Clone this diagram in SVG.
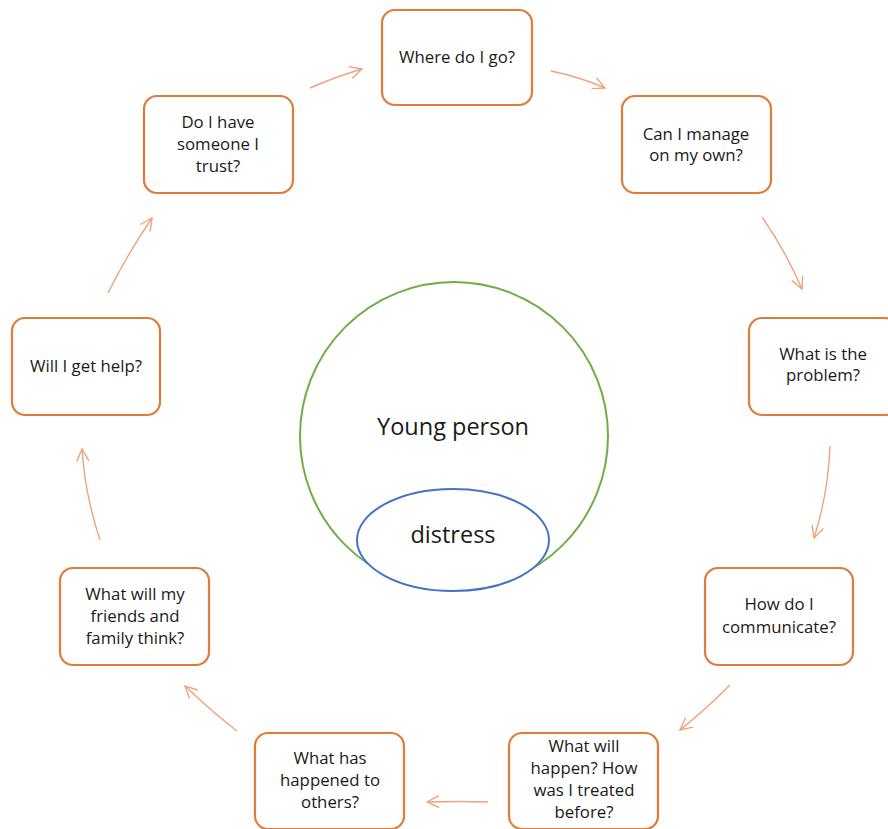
<svg xmlns="http://www.w3.org/2000/svg" width="888" height="829" viewBox="0 0 888 829">
  <style>
    .box { fill: #ffffff; stroke: #e07b3a; stroke-width: 2.2; }
    .lbl { font-family: "Open Sans", "Liberation Sans", sans-serif; font-size: 16.8px; fill: #1a1a1a; text-anchor: middle; }
    .big { font-family: "Open Sans", "Liberation Sans", sans-serif; font-size: 23.5px; fill: #1a1a1a; text-anchor: middle; }
    .flow { fill: none; stroke: #eea47a; stroke-width: 1.4; marker-end: url(#head); }
  </style>
  <defs>
    <marker id="head" viewBox="0 0 14 14" refX="13" refY="7" markerWidth="14" markerHeight="14" markerUnits="userSpaceOnUse" orient="auto">
      <path d="M1,1 L13,7 L1,13" fill="none" stroke="#eea47a" stroke-width="1.4"/>
    </marker>
  </defs>
  <rect width="888" height="829" fill="#ffffff"/>

  <!-- centre: the young person and their distress -->
  <g id="young-person">
    <circle cx="454" cy="436" r="154" fill="#ffffff" stroke="#70ad47" stroke-width="2"/>
    <text class="big" x="453" y="435">Young person</text>
  </g>
  <g id="distress">
    <ellipse cx="453" cy="540" rx="96" ry="51" fill="#ffffff" stroke="#4472c4" stroke-width="2"/>
    <text class="big" x="453" y="543">distress</text>
  </g>

  <!-- question boxes -->
  <g id="where">
    <rect class="box" x="382" y="10" width="150" height="95" rx="13"/>
    <text class="lbl" x="457" y="63">Where do I go?</text>
  </g>
  <g id="manage">
    <rect class="box" x="622" y="96" width="149" height="97" rx="13"/>
    <text class="lbl" x="696" y="140">Can I manage</text>
    <text class="lbl" x="696" y="161">on my own?</text>
  </g>
  <g id="problem">
    <rect class="box" x="749" y="318" width="149" height="97" rx="13"/>
    <text class="lbl" x="823" y="360">What is the</text>
    <text class="lbl" x="823" y="381">problem?</text>
  </g>
  <g id="communicate">
    <rect class="box" x="705" y="568" width="148" height="97" rx="13"/>
    <text class="lbl" x="779" y="610">How do I</text>
    <text class="lbl" x="779" y="633">communicate?</text>
  </g>
  <g id="happen">
    <rect class="box" x="509" y="733" width="149" height="96" rx="13"/>
    <text class="lbl" x="584" y="752">What will</text>
    <text class="lbl" x="584" y="774">happen? How</text>
    <text class="lbl" x="584" y="796">was I treated</text>
    <text class="lbl" x="584" y="818">before?</text>
  </g>
  <g id="others">
    <rect class="box" x="255" y="733" width="149" height="96" rx="13"/>
    <text class="lbl" x="330" y="764">What has</text>
    <text class="lbl" x="330" y="786">happened to</text>
    <text class="lbl" x="330" y="808">others?</text>
  </g>
  <g id="friends">
    <rect class="box" x="60" y="568" width="149" height="97" rx="13"/>
    <text class="lbl" x="135" y="600">What will my</text>
    <text class="lbl" x="135" y="622">friends and</text>
    <text class="lbl" x="135" y="644">family think?</text>
  </g>
  <g id="help">
    <rect class="box" x="12" y="318" width="148" height="97" rx="13"/>
    <text class="lbl" x="86" y="372">Will I get help?</text>
  </g>
  <g id="trust">
    <rect class="box" x="144" y="96" width="149" height="97" rx="13"/>
    <text class="lbl" x="218" y="128">Do I have</text>
    <text class="lbl" x="218" y="150">someone I</text>
    <text class="lbl" x="218" y="172">trust?</text>
  </g>

  <!-- connectors running clockwise round the circle -->
  <g id="connectors">
    <path class="flow" d="M310,88 Q335,77 362,69"/>
    <path class="flow" d="M551,71 Q580,77 605,88"/>
    <path class="flow" d="M762,217 Q785,250 802,289"/>
    <path class="flow" d="M830,446 Q828,495 814,538"/>
    <path class="flow" d="M730,685 Q705,710 680,730"/>
    <path class="flow" d="M488,802 Q458,801 427,802"/>
    <path class="flow" d="M237,731 Q210,710 185,686"/>
    <path class="flow" d="M100,540 Q85,495 82,449"/>
    <path class="flow" d="M108,293 Q128,253 152,218"/>
  </g>
</svg>
